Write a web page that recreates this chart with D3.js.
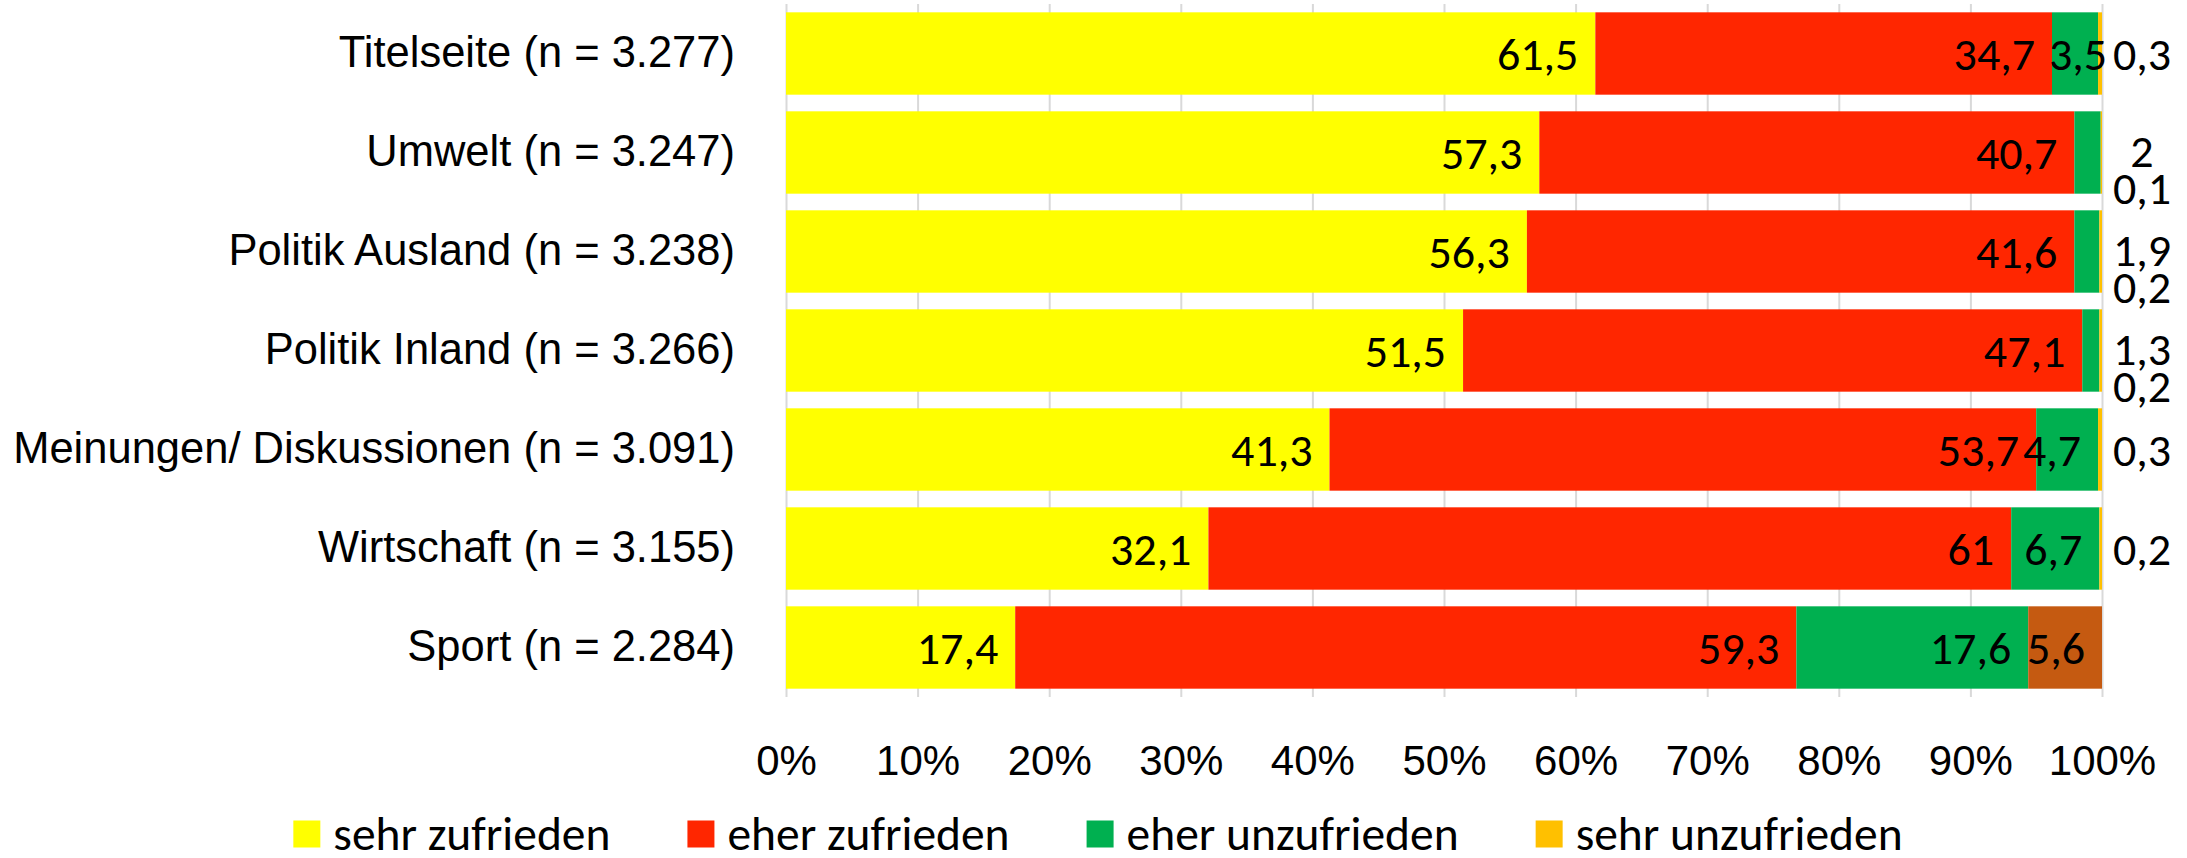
<!DOCTYPE html>
<html>
<head>
<meta charset="utf-8">
<script src="https://cdn.jsdelivr.net/npm/d3@7"></script>
<style>
  body { margin: 0; background: #ffffff; }
  svg { display: block; font-family: Carlito, Calibri, Lato, sans-serif; }
</style>
</head>
<body>
<div id="chart"></div>
<script>
// Zufriedenheit mit den Ressorts, Anteile in %
let categories = [
  "Titelseite (n = 3.277)",
  "Umwelt (n = 3.247)",
  "Politik Ausland (n = 3.238)",
  "Politik Inland (n = 3.266)",
  "Meinungen/ Diskussionen (n = 3.091)",
  "Wirtschaft (n = 3.155)",
  "Sport (n = 2.284)"
];
let seriesNames = ["sehr zufrieden", "eher zufrieden", "eher unzufrieden", "sehr unzufrieden"];
let sehrZufrieden = [61.5, 57.3, 56.3, 51.5, 41.3, 32.1, 17.4];
let eherZufrieden = [34.7, 40.7, 41.6, 47.1, 53.7, 61, 59.3];
let eherUnzufrieden = [3.5, 2, 1.9, 1.3, 4.7, 6.7, 17.6];
let sehrUnzufrieden = [0.3, 0.1, 0.2, 0.2, 0.3, 0.2, 5.6];
let tickValues = [0, 0.1, 0.2, 0.3, 0.4, 0.5, 0.6, 0.7, 0.8, 0.9, 1];

let colors = ["#ffff00", "#ff2600", "#00b050", "#ffc000"];
// der letzte Abschnitt bei Sport ist im Original anders eingefärbt
let sportOverrideColor = "#c55a11";

let width = 2187;
let height = 858;
let tickFont = 42;
let categoryFont = 43.5;
let labelFont = 46;
let legendFont = 47.5;
let plotLeft = 786;
let plotRight = 2102;
let plotTop = 4;
let plotBottom = 697;

let rows = categories.map((c, i) => ({
  category: c,
  "sehr zufrieden": sehrZufrieden[i],
  "eher zufrieden": eherZufrieden[i],
  "eher unzufrieden": eherUnzufrieden[i],
  "sehr unzufrieden": sehrUnzufrieden[i]
}));

let stack = d3.stack()
  .keys(seriesNames)
  .offset(d3.stackOffsetExpand);
let stacked = stack(rows);

let xScale = d3.scaleLinear()
  .domain([0, 1])
  .range([plotLeft, plotRight]);
let yScale = d3.scaleBand()
  .domain(categories)
  .range([plotTop, plotBottom])
  .paddingInner(0.168)
  .paddingOuter(0.084);

let svg = d3.select("#chart").append("svg")
  .attr("width", width)
  .attr("height", height);

// gridlines + percent ticks
let gXAxis = svg.append("g")
  .attr("transform", `translate(0, ${plotBottom})`)
  .call(d3.axisBottom(xScale)
    .tickValues(tickValues)
    .tickFormat(d3.format(".0%"))
    .tickSizeInner(-(plotBottom - plotTop))
    .tickSizeOuter(0));
gXAxis.select(".domain").remove();
gXAxis.selectAll(".tick line")
  .attr("stroke", "#d9d9d9")
  .attr("stroke-width", 2);
gXAxis.selectAll(".tick text")
  .attr("y", 63)
  .attr("dy", "0.35em")
  .attr("fill", "#000")
  .style("font-size", tickFont + "px")
  .style("font-family", null);

// category labels
let gYAxis = svg.append("g")
  .attr("transform", `translate(${plotLeft}, 0)`)
  .call(d3.axisLeft(yScale).tickSize(0).tickPadding(51));
gYAxis.select(".domain").remove();
gYAxis.selectAll(".tick text")
  .attr("fill", "#000")
  .style("font-size", categoryFont + "px")
  .style("font-family", null);

// bars
let layer = svg.selectAll("g.layer").data(stacked);
let layerEnter = layer.enter().append("g")
  .classed("layer", true)
  .attr("fill", (d, i) => colors[i]);
layerEnter.selectAll("rect")
  .data((d) => d)
  .enter().append("rect")
  .attr("x", (d) => xScale(d[0]))
  .attr("y", (d) => yScale(d.data.category))
  .attr("width", (d) => xScale(d[1]) - xScale(d[0]))
  .attr("height", yScale.bandwidth())
  .attr("fill", function(d) {
    let key = d3.select(this.parentNode).datum().key;
    if (key == "sehr unzufrieden" && d.data.category.startsWith("Sport")) {
      return sportOverrideColor;
    }
    return null;
  });

// data labels
let fmt = (v) => String(v).replace(".", ",");
let pad = 17;
let outsideX = plotRight + 40;
let gLabels = svg.append("g")
  .style("font-size", labelFont + "px")
  .attr("fill", "#000");

let labelItems = [];
stacked.forEach((series) => {
  series.forEach((d) => {
    labelItems.push({
      key: series.key,
      category: d.data.category,
      value: d.data[series.key],
      x0: xScale(d[0]),
      x1: xScale(d[1])
    });
  });
});

// which rows put more than one label outside the bar
let outsideCount = {};
labelItems.forEach((l) => {
  l.w = l.x1 - l.x0;
  l.mode = l.w >= 55 ? "end" : (l.w >= 40 ? "center" : "outside");
  if (l.mode == "outside") {
    outsideCount[l.category] = (outsideCount[l.category] || 0) + 1;
  }
});
let outsideIndex = {};

labelItems.forEach((l) => {
  let cy = yScale(l.category) + yScale.bandwidth() / 2;
  let x, anchor = "middle", y = cy;
  if (l.mode == "end") {
    x = l.x1 - pad;
    anchor = "end";
  } else if (l.mode == "center") {
    x = (l.x0 + l.x1) / 2 + 3;
  } else {
    let k = outsideIndex[l.category] || 0;
    outsideIndex[l.category] = k + 1;
    x = outsideX;
    if (outsideCount[l.category] > 1) {
      y = cy - 2 + k * 37;
    }
  }
  gLabels.append("text")
    .attr("x", x)
    .attr("y", y)
    .attr("dy", "0.35em")
    .attr("text-anchor", anchor)
    .text(fmt(l.value));
});

// legend
let swatch = 27;
let swatchGap = 13;
let itemGap = 77;
let legendY = 834;
let gLegend = svg.append("g");
let cursor = 0;
seriesNames.forEach((name, i) => {
  let item = gLegend.append("g")
    .attr("transform", `translate(${cursor}, 0)`);
  item.append("rect")
    .attr("x", 0)
    .attr("y", legendY - swatch / 2)
    .attr("width", swatch)
    .attr("height", swatch)
    .attr("fill", colors[i]);
  let t = item.append("text")
    .attr("x", swatch + swatchGap)
    .attr("y", legendY)
    .attr("dy", "0.33em")
    .style("font-size", legendFont + "px")
    .attr("fill", "#000")
    .text(name);
  cursor += swatch + swatchGap + t.node().getComputedTextLength() + itemGap;
});
let legendWidth = cursor - itemGap;
gLegend.attr("transform", `translate(${1098 - legendWidth / 2}, 0)`);
</script>
</body>
</html>
